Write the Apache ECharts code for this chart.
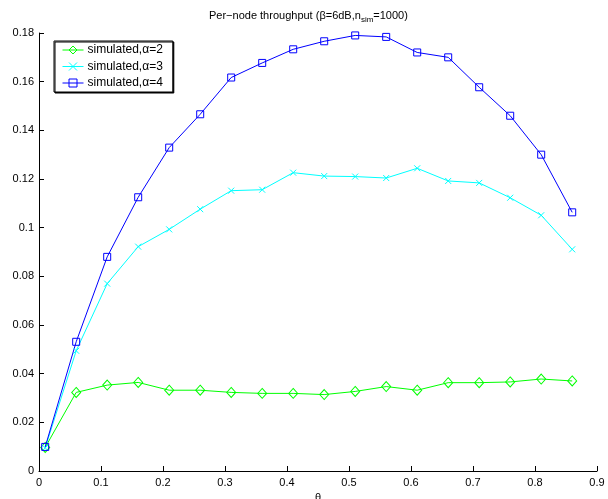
<!DOCTYPE html>
<html><head><meta charset="utf-8">
<script src="https://cdn.jsdelivr.net/npm/echarts@6/dist/echarts.min.js"></script>
<style>html,body{margin:0;padding:0;background:#fff}#c{width:608px;height:499px}</style>
</head><body><div id="c"></div>
<script>
var theta = [0.01,0.06,0.11,0.16,0.21,0.26,0.31,0.36,0.41,0.46,0.51,0.56,0.61,0.66,0.71,0.76,0.81,0.86];
var alpha2 = [0.0097,0.0323,0.0353,0.0364,0.0332,0.0332,0.0323,0.0319,0.0319,0.0314,0.0327,0.0347,0.0332,0.0363,0.0363,0.0366,0.0378,0.0370];
var alpha3 = [0.0095,0.0494,0.0770,0.0922,0.0993,0.1076,0.1152,0.1156,0.1226,0.1212,0.1210,0.1204,0.1244,0.1192,0.1184,0.1123,0.1051,0.0911];
var alpha4 = [0.0099,0.0531,0.0880,0.1125,0.1329,0.1466,0.1617,0.1677,0.1733,0.1766,0.1790,0.1784,0.1720,0.1700,0.1577,0.1460,0.1300,0.1063];
var seriesNames = ['simulated,\u03b1=2','simulated,\u03b1=3','simulated,\u03b1=4'];

function pairs(ys){ return theta.map(function(x,i){ return [x, ys[i]]; }); }
var FONT = '"Liberation Sans", Arial, sans-serif';
var chart = echarts.init(document.getElementById('c'));
var xPath = 'path://M0,0L10,10M10,0L0,10';
function mk(name, data, color, symbol, size){
  return {
    name: name, type: 'line', data: pairs(data),
    symbol: symbol, symbolSize: size, showAllSymbol: true,
    lineStyle: {color: color, width: 1},
    itemStyle: {color: 'rgba(0,0,0,0)', borderColor: color, borderWidth: 1},
    emphasis: {disabled: true}, animation: false
  };
}
chart.setOption({
  backgroundColor: '#fff',
  animation: false,
  textStyle: {fontFamily: FONT},
  title: {
    text: 'Per\u2212node throughput (\u03b2=6dB,n{s|sim}=1000)',
    left: 204, top: 3,
    textStyle: {fontFamily: FONT, fontSize: 11, fontWeight: 'normal', color: '#000', lineHeight: 16,
      rich: {s: {fontFamily: FONT, fontSize: 8, color: '#000', verticalAlign: 'bottom', lineHeight: 8, padding: [8,0,0,0]}}}
  },
  legend: {
    orient: 'vertical', left: 54, top: 41,
    data: seriesNames,
    itemWidth: 21, itemHeight: 10, itemGap: 4.5,
    padding: [3, 10, 3, 8],
    borderColor: '#000', borderWidth: 1,
    backgroundColor: '#fff',
    shadowColor: 'rgba(0,0,0,1)', shadowOffsetX: 1, shadowOffsetY: 1,
    lineStyle: {width: 1},
    itemStyle: {borderWidth: 1},
    textStyle: {fontFamily: FONT, fontSize: 12, color: '#000', padding: [0,0,0,-1]}
  },
  grid: {left: 39, right: 11, top: 33, bottom: 28, containLabel: false, outerBoundsMode: 'none'},
  xAxis: {
    type: 'value', min: 0, max: 0.9, interval: 0.1,
    name: '\u03b8', nameLocation: 'middle', nameGap: 21,
    nameTextStyle: {fontFamily: FONT, fontSize: 11, color: '#000'},
    axisLine: {lineStyle: {color: '#000', width: 1}},
    axisTick: {inside: true, length: 5, lineStyle: {color: '#000'}},
    axisLabel: {fontFamily: FONT, fontSize: 11, color: '#000', margin: 6},
    splitLine: {show: false}
  },
  yAxis: {
    type: 'value', min: 0, max: 0.18, interval: 0.02,
    axisLine: {show: true, lineStyle: {color: '#000', width: 1}},
    axisTick: {show: true, inside: true, length: 5, lineStyle: {color: '#000'}},
    axisLabel: {fontFamily: FONT, fontSize: 11, color: '#000', margin: 5},
    splitLine: {show: false}
  },
  series: [
    mk(seriesNames[0], alpha2, '#00ff00', 'diamond', [9, 10]),
    mk(seriesNames[1], alpha3, '#00ffff', xPath, 6),
    mk(seriesNames[2], alpha4, '#0000ff', 'rect', 7)
  ]
});
</script></body></html>
